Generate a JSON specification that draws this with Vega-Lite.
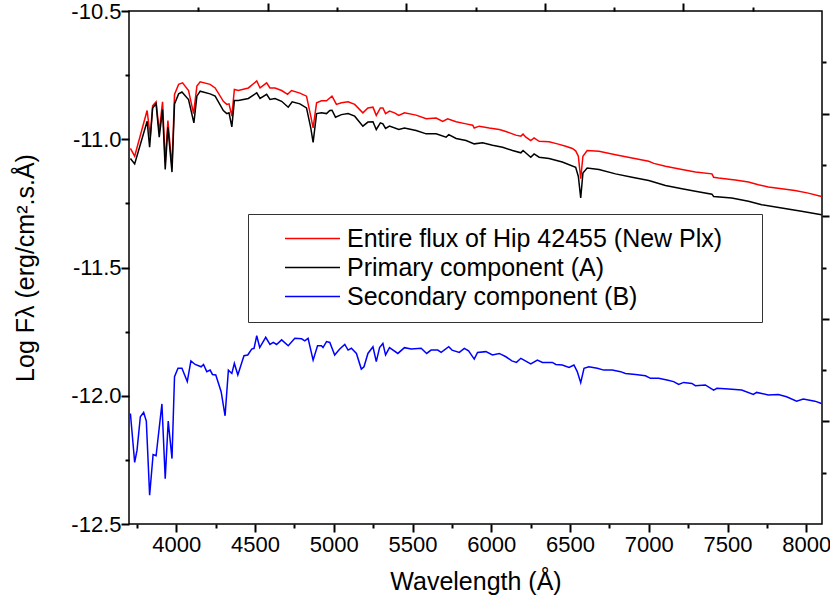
{
  "$schema": "https://vega.github.io/schema/vega-lite/v6.json",
  "width": 693,
  "height": 513,
  "autosize": {"type": "none"},
  "padding": {"left": 129, "top": 11, "right": 8, "bottom": 81},
  "background": "white",
  "config": {
    "font": "Liberation Sans",
    "view": {"stroke": "black", "strokeWidth": 1.5},
    "axis": {
      "grid": false,
      "domain": false,
      "ticks": true,
      "tickColor": "#000000",
      "tickWidth": 2,
      "labelColor": "black",
      "labelFont": "Liberation Sans",
      "labelFontSize": 22,
      "titleFont": "Liberation Sans",
      "titleFontSize": 25,
      "titleFontWeight": "normal",
      "titleColor": "black",
      "labelFlush": false,
      "labelOverlap": false
    }
  },
  "data": {
    "values": [
      {"w":3709,"f":-11.036,"s":"E"},{"w":3736,"f":-11.066,"s":"E"},{"w":3815,"f":-10.888,"s":"E"},{"w":3835,"f":-10.99,"s":"E"},{"w":3850,"f":-10.87,"s":"E"},{"w":3872,"f":-10.854,"s":"E"},{"w":3892,"f":-10.97,"s":"E"},{"w":3913,"f":-10.854,"s":"E"},{"w":3930,"f":-11.09,"s":"E"},{"w":3947,"f":-10.927,"s":"E"},{"w":3973,"f":-11.11,"s":"E"},{"w":3989,"f":-10.825,"s":"E"},{"w":4015,"f":-10.786,"s":"E"},{"w":4040,"f":-10.78,"s":"E"},{"w":4078,"f":-10.81,"s":"E"},{"w":4110,"f":-10.9,"s":"E"},{"w":4131,"f":-10.793,"s":"E"},{"w":4152,"f":-10.776,"s":"E"},{"w":4215,"f":-10.786,"s":"E"},{"w":4247,"f":-10.8,"s":"E"},{"w":4299,"f":-10.852,"s":"E"},{"w":4321,"f":-10.864,"s":"E"},{"w":4335,"f":-10.862,"s":"E"},{"w":4353,"f":-10.91,"s":"E"},{"w":4369,"f":-10.806,"s":"E"},{"w":4394,"f":-10.81,"s":"E"},{"w":4458,"f":-10.8,"s":"E"},{"w":4511,"f":-10.773,"s":"E"},{"w":4532,"f":-10.8,"s":"E"},{"w":4574,"f":-10.78,"s":"E"},{"w":4595,"f":-10.8,"s":"E"},{"w":4627,"f":-10.8,"s":"E"},{"w":4669,"f":-10.81,"s":"E"},{"w":4707,"f":-10.825,"s":"E"},{"w":4732,"f":-10.81,"s":"E"},{"w":4785,"f":-10.82,"s":"E"},{"w":4827,"f":-10.832,"s":"E"},{"w":4854,"f":-10.91,"s":"E"},{"w":4869,"f":-10.956,"s":"E"},{"w":4891,"f":-10.858,"s":"E"},{"w":4922,"f":-10.85,"s":"E"},{"w":4954,"f":-10.85,"s":"E"},{"w":4989,"f":-10.832,"s":"E"},{"w":5017,"f":-10.864,"s":"E"},{"w":5049,"f":-10.858,"s":"E"},{"w":5091,"f":-10.854,"s":"E"},{"w":5133,"f":-10.864,"s":"E"},{"w":5185,"f":-10.897,"s":"E"},{"w":5217,"f":-10.878,"s":"E"},{"w":5249,"f":-10.875,"s":"E"},{"w":5270,"f":-10.907,"s":"E"},{"w":5296,"f":-10.878,"s":"E"},{"w":5312,"f":-10.878,"s":"E"},{"w":5329,"f":-10.9,"s":"E"},{"w":5354,"f":-10.89,"s":"E"},{"w":5386,"f":-10.897,"s":"E"},{"w":5413,"f":-10.907,"s":"E"},{"w":5449,"f":-10.897,"s":"E"},{"w":5523,"f":-10.906,"s":"E"},{"w":5587,"f":-10.92,"s":"E"},{"w":5650,"f":-10.917,"s":"E"},{"w":5692,"f":-10.93,"s":"E"},{"w":5723,"f":-10.92,"s":"E"},{"w":5777,"f":-10.932,"s":"E"},{"w":5840,"f":-10.94,"s":"E"},{"w":5882,"f":-10.945,"s":"E"},{"w":5892,"f":-10.956,"s":"E"},{"w":5924,"f":-10.949,"s":"E"},{"w":5987,"f":-10.956,"s":"E"},{"w":6051,"f":-10.962,"s":"E"},{"w":6093,"f":-10.97,"s":"E"},{"w":6156,"f":-10.984,"s":"E"},{"w":6188,"f":-10.988,"s":"E"},{"w":6202,"f":-10.98,"s":"E"},{"w":6220,"f":-10.992,"s":"E"},{"w":6251,"f":-11.005,"s":"E"},{"w":6272,"f":-10.995,"s":"E"},{"w":6304,"f":-11.008,"s":"E"},{"w":6367,"f":-11.01,"s":"E"},{"w":6420,"f":-11.018,"s":"E"},{"w":6473,"f":-11.027,"s":"E"},{"w":6515,"f":-11.036,"s":"E"},{"w":6536,"f":-11.045,"s":"E"},{"w":6553,"f":-11.066,"s":"E"},{"w":6568,"f":-11.154,"s":"E"},{"w":6582,"f":-11.066,"s":"E"},{"w":6609,"f":-11.044,"s":"E"},{"w":6684,"f":-11.047,"s":"E"},{"w":6789,"f":-11.06,"s":"E"},{"w":6894,"f":-11.073,"s":"E"},{"w":7000,"f":-11.086,"s":"E"},{"w":7032,"f":-11.094,"s":"E"},{"w":7106,"f":-11.105,"s":"E"},{"w":7211,"f":-11.118,"s":"E"},{"w":7296,"f":-11.128,"s":"E"},{"w":7401,"f":-11.135,"s":"E"},{"w":7412,"f":-11.148,"s":"E"},{"w":7443,"f":-11.151,"s":"E"},{"w":7549,"f":-11.159,"s":"E"},{"w":7633,"f":-11.167,"s":"E"},{"w":7696,"f":-11.177,"s":"E"},{"w":7759,"f":-11.186,"s":"E"},{"w":7844,"f":-11.193,"s":"E"},{"w":7928,"f":-11.2,"s":"E"},{"w":8013,"f":-11.21,"s":"E"},{"w":8097,"f":-11.223,"s":"E"},

      {"w":3709,"f":-11.075,"s":"P"},{"w":3736,"f":-11.096,"s":"P"},{"w":3815,"f":-10.93,"s":"P"},{"w":3831,"f":-11.031,"s":"P"},{"w":3850,"f":-10.878,"s":"P"},{"w":3872,"f":-10.862,"s":"P"},{"w":3892,"f":-10.992,"s":"P"},{"w":3913,"f":-10.884,"s":"P"},{"w":3930,"f":-11.118,"s":"P"},{"w":3947,"f":-10.953,"s":"P"},{"w":3973,"f":-11.128,"s":"P"},{"w":3989,"f":-10.862,"s":"P"},{"w":4015,"f":-10.823,"s":"P"},{"w":4036,"f":-10.816,"s":"P"},{"w":4078,"f":-10.845,"s":"P"},{"w":4112,"f":-10.936,"s":"P"},{"w":4131,"f":-10.832,"s":"P"},{"w":4152,"f":-10.8125,"s":"P"},{"w":4215,"f":-10.823,"s":"P"},{"w":4247,"f":-10.832,"s":"P"},{"w":4299,"f":-10.888,"s":"P"},{"w":4321,"f":-10.9,"s":"P"},{"w":4335,"f":-10.897,"s":"P"},{"w":4353,"f":-10.952,"s":"P"},{"w":4369,"f":-10.849,"s":"P"},{"w":4394,"f":-10.849,"s":"P"},{"w":4458,"f":-10.841,"s":"P"},{"w":4511,"f":-10.819,"s":"P"},{"w":4532,"f":-10.841,"s":"P"},{"w":4574,"f":-10.825,"s":"P"},{"w":4595,"f":-10.845,"s":"P"},{"w":4627,"f":-10.841,"s":"P"},{"w":4669,"f":-10.852,"s":"P"},{"w":4711,"f":-10.875,"s":"P"},{"w":4736,"f":-10.854,"s":"P"},{"w":4785,"f":-10.862,"s":"P"},{"w":4827,"f":-10.878,"s":"P"},{"w":4854,"f":-10.956,"s":"P"},{"w":4869,"f":-11.012,"s":"P"},{"w":4891,"f":-10.9,"s":"P"},{"w":4922,"f":-10.897,"s":"P"},{"w":4954,"f":-10.9,"s":"P"},{"w":4975,"f":-10.888,"s":"P"},{"w":4989,"f":-10.887,"s":"P"},{"w":5011,"f":-10.914,"s":"P"},{"w":5049,"f":-10.904,"s":"P"},{"w":5091,"f":-10.9,"s":"P"},{"w":5133,"f":-10.91,"s":"P"},{"w":5185,"f":-10.949,"s":"P"},{"w":5217,"f":-10.933,"s":"P"},{"w":5249,"f":-10.932,"s":"P"},{"w":5270,"f":-10.962,"s":"P"},{"w":5296,"f":-10.936,"s":"P"},{"w":5312,"f":-10.94,"s":"P"},{"w":5329,"f":-10.958,"s":"P"},{"w":5354,"f":-10.949,"s":"P"},{"w":5413,"f":-10.962,"s":"P"},{"w":5449,"f":-10.956,"s":"P"},{"w":5523,"f":-10.966,"s":"P"},{"w":5587,"f":-10.979,"s":"P"},{"w":5650,"f":-10.979,"s":"P"},{"w":5713,"f":-10.992,"s":"P"},{"w":5730,"f":-10.982,"s":"P"},{"w":5777,"f":-10.997,"s":"P"},{"w":5840,"f":-11.005,"s":"P"},{"w":5892,"f":-11.018,"s":"P"},{"w":5945,"f":-11.014,"s":"P"},{"w":6008,"f":-11.023,"s":"P"},{"w":6072,"f":-11.031,"s":"P"},{"w":6135,"f":-11.044,"s":"P"},{"w":6188,"f":-11.053,"s":"P"},{"w":6202,"f":-11.044,"s":"P"},{"w":6251,"f":-11.07,"s":"P"},{"w":6272,"f":-11.057,"s":"P"},{"w":6304,"f":-11.07,"s":"P"},{"w":6367,"f":-11.075,"s":"P"},{"w":6451,"f":-11.089,"s":"P"},{"w":6536,"f":-11.109,"s":"P"},{"w":6553,"f":-11.145,"s":"P"},{"w":6568,"f":-11.229,"s":"P"},{"w":6582,"f":-11.132,"s":"P"},{"w":6609,"f":-11.112,"s":"P"},{"w":6684,"f":-11.118,"s":"P"},{"w":6789,"f":-11.135,"s":"P"},{"w":6894,"f":-11.148,"s":"P"},{"w":7000,"f":-11.161,"s":"P"},{"w":7106,"f":-11.18,"s":"P"},{"w":7211,"f":-11.193,"s":"P"},{"w":7296,"f":-11.203,"s":"P"},{"w":7401,"f":-11.214,"s":"P"},{"w":7412,"f":-11.223,"s":"P"},{"w":7527,"f":-11.229,"s":"P"},{"w":7633,"f":-11.242,"s":"P"},{"w":7717,"f":-11.255,"s":"P"},{"w":7844,"f":-11.268,"s":"P"},{"w":7970,"f":-11.281,"s":"P"},{"w":8097,"f":-11.294,"s":"P"},

      {"w":3709,"f":-12.069,"s":"S"},{"w":3736,"f":-12.26,"s":"S"},{"w":3751,"f":-12.212,"s":"S"},{"w":3772,"f":-12.082,"s":"S"},{"w":3793,"f":-12.065,"s":"S"},{"w":3810,"f":-12.099,"s":"S"},{"w":3831,"f":-12.388,"s":"S"},{"w":3853,"f":-12.229,"s":"S"},{"w":3872,"f":-12.234,"s":"S"},{"w":3909,"f":-12.032,"s":"S"},{"w":3930,"f":-12.323,"s":"S"},{"w":3949,"f":-12.099,"s":"S"},{"w":3973,"f":-12.245,"s":"S"},{"w":3989,"f":-11.926,"s":"S"},{"w":4011,"f":-11.893,"s":"S"},{"w":4036,"f":-11.893,"s":"S"},{"w":4070,"f":-11.945,"s":"S"},{"w":4093,"f":-11.864,"s":"S"},{"w":4120,"f":-11.878,"s":"S"},{"w":4158,"f":-11.887,"s":"S"},{"w":4173,"f":-11.878,"s":"S"},{"w":4194,"f":-11.906,"s":"S"},{"w":4215,"f":-11.9,"s":"S"},{"w":4230,"f":-11.917,"s":"S"},{"w":4251,"f":-11.919,"s":"S"},{"w":4285,"f":-11.984,"s":"S"},{"w":4310,"f":-12.078,"s":"S"},{"w":4331,"f":-11.9,"s":"S"},{"w":4353,"f":-11.913,"s":"S"},{"w":4369,"f":-11.874,"s":"S"},{"w":4391,"f":-11.919,"s":"S"},{"w":4430,"f":-11.844,"s":"S"},{"w":4454,"f":-11.841,"s":"S"},{"w":4479,"f":-11.818,"s":"S"},{"w":4494,"f":-11.815,"s":"S"},{"w":4511,"f":-11.766,"s":"S"},{"w":4530,"f":-11.812,"s":"S"},{"w":4568,"f":-11.772,"s":"S"},{"w":4595,"f":-11.8,"s":"S"},{"w":4616,"f":-11.792,"s":"S"},{"w":4637,"f":-11.8,"s":"S"},{"w":4669,"f":-11.782,"s":"S"},{"w":4711,"f":-11.805,"s":"S"},{"w":4753,"f":-11.776,"s":"S"},{"w":4796,"f":-11.778,"s":"S"},{"w":4816,"f":-11.786,"s":"S"},{"w":4837,"f":-11.776,"s":"S"},{"w":4869,"f":-11.861,"s":"S"},{"w":4897,"f":-11.805,"s":"S"},{"w":4922,"f":-11.805,"s":"S"},{"w":4932,"f":-11.812,"s":"S"},{"w":4954,"f":-11.789,"s":"S"},{"w":4975,"f":-11.792,"s":"S"},{"w":5006,"f":-11.841,"s":"S"},{"w":5038,"f":-11.818,"s":"S"},{"w":5070,"f":-11.8,"s":"S"},{"w":5091,"f":-11.822,"s":"S"},{"w":5112,"f":-11.815,"s":"S"},{"w":5144,"f":-11.835,"s":"S"},{"w":5175,"f":-11.896,"s":"S"},{"w":5192,"f":-11.887,"s":"S"},{"w":5217,"f":-11.835,"s":"S"},{"w":5249,"f":-11.809,"s":"S"},{"w":5270,"f":-11.867,"s":"S"},{"w":5291,"f":-11.812,"s":"S"},{"w":5312,"f":-11.796,"s":"S"},{"w":5329,"f":-11.841,"s":"S"},{"w":5354,"f":-11.8125,"s":"S"},{"w":5407,"f":-11.835,"s":"S"},{"w":5449,"f":-11.8125,"s":"S"},{"w":5492,"f":-11.818,"s":"S"},{"w":5555,"f":-11.815,"s":"S"},{"w":5590,"f":-11.835,"s":"S"},{"w":5618,"f":-11.822,"s":"S"},{"w":5660,"f":-11.822,"s":"S"},{"w":5682,"f":-11.831,"s":"S"},{"w":5730,"f":-11.809,"s":"S"},{"w":5751,"f":-11.822,"s":"S"},{"w":5797,"f":-11.831,"s":"S"},{"w":5829,"f":-11.815,"s":"S"},{"w":5856,"f":-11.825,"s":"S"},{"w":5892,"f":-11.857,"s":"S"},{"w":5913,"f":-11.831,"s":"S"},{"w":5966,"f":-11.828,"s":"S"},{"w":6008,"f":-11.841,"s":"S"},{"w":6051,"f":-11.835,"s":"S"},{"w":6093,"f":-11.848,"s":"S"},{"w":6131,"f":-11.864,"s":"S"},{"w":6160,"f":-11.87,"s":"S"},{"w":6188,"f":-11.854,"s":"S"},{"w":6251,"f":-11.876,"s":"S"},{"w":6293,"f":-11.861,"s":"S"},{"w":6325,"f":-11.87,"s":"S"},{"w":6388,"f":-11.87,"s":"S"},{"w":6410,"f":-11.878,"s":"S"},{"w":6451,"f":-11.88,"s":"S"},{"w":6494,"f":-11.89,"s":"S"},{"w":6525,"f":-11.88,"s":"S"},{"w":6546,"f":-11.906,"s":"S"},{"w":6568,"f":-11.949,"s":"S"},{"w":6589,"f":-11.893,"s":"S"},{"w":6620,"f":-11.887,"s":"S"},{"w":6673,"f":-11.893,"s":"S"},{"w":6715,"f":-11.9,"s":"S"},{"w":6768,"f":-11.9,"s":"S"},{"w":6821,"f":-11.906,"s":"S"},{"w":6852,"f":-11.913,"s":"S"},{"w":6916,"f":-11.917,"s":"S"},{"w":6979,"f":-11.922,"s":"S"},{"w":7011,"f":-11.932,"s":"S"},{"w":7063,"f":-11.932,"s":"S"},{"w":7116,"f":-11.939,"s":"S"},{"w":7158,"f":-11.945,"s":"S"},{"w":7190,"f":-11.956,"s":"S"},{"w":7222,"f":-11.948,"s":"S"},{"w":7274,"f":-11.952,"s":"S"},{"w":7296,"f":-11.961,"s":"S"},{"w":7359,"f":-11.958,"s":"S"},{"w":7412,"f":-11.978,"s":"S"},{"w":7433,"f":-11.971,"s":"S"},{"w":7507,"f":-11.974,"s":"S"},{"w":7590,"f":-11.978,"s":"S"},{"w":7664,"f":-11.995,"s":"S"},{"w":7685,"f":-11.987,"s":"S"},{"w":7759,"f":-11.997,"s":"S"},{"w":7823,"f":-11.995,"s":"S"},{"w":7875,"f":-12.004,"s":"S"},{"w":7939,"f":-12.021,"s":"S"},{"w":7981,"f":-12.013,"s":"S"},{"w":8055,"f":-12.021,"s":"S"},{"w":8097,"f":-12.03,"s":"S"}
    ]
  },
  "resolve": {"axis": {"x": "independent", "y": "independent"}},
  "layer": [
    {
      "mark": {"type": "line", "strokeWidth": 1.5, "interpolate": "linear"},
      "encoding": {
        "x": {
          "field": "w", "type": "quantitative",
          "scale": {"domain": [3700, 8100], "nice": false, "zero": false},
          "axis": {
            "orient": "bottom",
            "title": "Wavelength (Å)",
            "values": [4000,4500,5000,5500,6000,6500,7000,7500,8000],
            "format": "d",
            "tickSize": 8,
            "labelPadding": 2,
            "titlePadding": 14
          }
        },
        "y": {
          "field": "f", "type": "quantitative",
          "scale": {"domain": [-12.5, -10.5], "nice": false, "zero": false},
          "axis": {
            "orient": "left",
            "title": "Log Fλ (erg/cm².s.Å)",
            "values": [-12.5,-12,-11.5,-11,-10.5],
            "labelExpr": "datum.value == round(datum.value) ? datum.value + '.0' : '' + datum.value",
            "tickSize": 8,
            "labelPadding": 0,
            "titlePadding": 32
          }
        },
        "color": {
          "field": "s", "type": "nominal",
          "scale": {"domain": ["E", "P", "S"], "range": ["#ff0000", "#000000", "#0000ff"]},
          "legend": {
            "title": null,
            "orient": "none",
            "legendX": 119,
            "legendY": 203,
            "direction": "vertical",
            "symbolType": "M-5,0H5M79,0",
            "symbolSize": 121,
            "symbolStrokeWidth": 1.5,
            "symbolOffset": 40,
            "labelOffset": 22,
            "labelFontSize": 25,
            "labelFont": "Liberation Sans",
            "labelColor": "black",
            "labelLimit": 0,
            "rowPadding": 3,
            "padding": 12,
            "strokeColor": "#333333",
            "fillColor": "white",
            "labelExpr": "datum.value == 'E' ? 'Entire flux of Hip 42455 (New Plx)' : datum.value == 'P' ? 'Primary component (A)' : 'Secondary component (B)'"
          }
        }
      }
    },
    {
      "mark": {"type": "point", "opacity": 0},
      "encoding": {
        "x": {
          "field": "w", "type": "quantitative",
          "axis": {
            "orient": "bottom", "title": null, "labels": false,
            "values": [3750,4250,4750,5250,5750,6250,6750,7250,7750],
            "tickSize": 4
          }
        },
        "y": {
          "field": "f", "type": "quantitative",
          "axis": {
            "orient": "left", "title": null, "labels": false,
            "values": [-12.25,-11.75,-11.25,-10.75],
            "tickSize": 4
          }
        }
      }
    },
    {
      "mark": {"type": "point", "opacity": 0},
      "encoding": {
        "x": {
          "field": "w", "type": "quantitative",
          "axis": {
            "orient": "top", "title": null, "labels": false,
            "values": [4580,5460,6340,7220],
            "tickSize": 8
          }
        },
        "y": {
          "field": "f", "type": "quantitative",
          "axis": {
            "orient": "right", "title": null, "labels": false,
            "values": [-12.1,-11.7,-11.3,-10.9],
            "tickSize": 7
          }
        }
      }
    },
    {
      "mark": {"type": "point", "opacity": 0},
      "encoding": {
        "x": {
          "field": "w", "type": "quantitative",
          "axis": {
            "orient": "top", "title": null, "labels": false,
            "values": [4140,5020,5900,6780,7660],
            "tickSize": 4
          }
        },
        "y": {
          "field": "f", "type": "quantitative",
          "axis": {
            "orient": "right", "title": null, "labels": false,
            "values": [-12.3,-11.9,-11.5,-11.1,-10.7],
            "tickSize": 4
          }
        }
      }
    }
  ]
}
